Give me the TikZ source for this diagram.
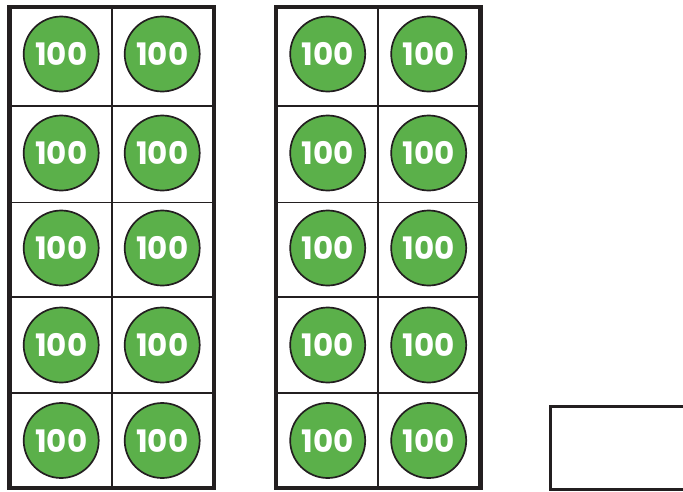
\documentclass[tikz,border=0pt]{standalone}
\usepackage{fontspec}
\newfontfamily\tokenfont{Poppins}[BoldFont={* Bold}]
\usetikzlibrary{positioning,calc}
\definecolor{tokengreen}{RGB}{91,176,74}
\definecolor{frameblack}{RGB}{35,31,32}

\begin{document}
\begin{tikzpicture}[x=1pt,y=-1pt,
   token/.style={circle,draw=frameblack,line width=1.7pt,fill=tokengreen,
     minimum size=75pt,inner sep=0pt,text=white,
     font=\tokenfont\bfseries\fontsize{31}{31}\selectfont},
   outer/.style={draw=frameblack,line width=4.4pt},
   inner/.style={draw=frameblack,line width=1.7pt}]
  \useasboundingbox (0,0) rectangle (683,491);
  % two ten-frames of hundreds
  \foreach \f/\x in {A/9.5,B/276}{
    \foreach \y in {106,202.5,297,393}
      \draw[inner] (\x,\y) -- ++(204.4,0);
    \draw[inner] (\x+102.2,7.2) -- ++(0,481);
    \draw[outer] (\x,7.2) rectangle ++(204.4,481);
    \foreach \y [count=\r] in {54,153,248,345,440.5}{
      \node[token] (\f-\r-l) at (\x+51.7,\y) {100};
      \node[token] (\f-\r-r) at (\x+152.7,\y) {100};
    }
  }
  % empty answer box
  \draw[draw=frameblack,line width=3pt] (690,406) -- (550,406) -- (550,489.5) -- (690,489.5);
\end{tikzpicture}
\end{document}
